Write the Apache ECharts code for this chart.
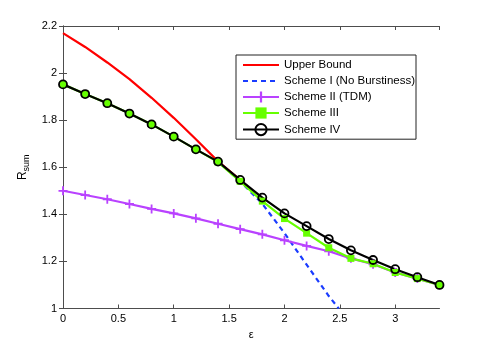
<!DOCTYPE html>
<html>
<head>
<meta charset="utf-8">
<script src="https://cdn.jsdelivr.net/npm/echarts@6/dist/echarts.min.js"></script>
<style>html,body{margin:0;padding:0;background:#fff}#c{width:485px;height:348px}</style>
</head>
<body>
<div id="c"></div>
<script>
// epsilon grid (x values)
var eps = [0,0.2,0.4,0.6,0.8,1.0,1.2,1.4,1.6,1.8,2.0,2.2,2.4,2.6,2.8,3.0,3.2,3.4];
// Upper bound (visible part, merges into Scheme IV)
var epsUB = [0,0.2,0.4,0.6,0.8,1.0,1.2,1.4,1.6];
var upperBound = [2.170,2.111,2.045,1.974,1.895,1.810,1.719,1.625,1.546];
// Scheme I (No Burstiness) – visible part after leaving upper bound
var epsI = [1.4,1.6,1.8,2.0,2.2,2.4,2.49];
var schemeI = [1.625,1.540,1.445,1.320,1.186,1.053,1.0];
// Scheme II (TDM)
var schemeII = [1.500,1.482,1.464,1.444,1.423,1.404,1.383,1.360,1.337,1.315,1.290,1.266,1.243,1.213,1.188,1.153,1.127,1.100];
// Scheme III
var schemeIII = [1.952,1.911,1.872,1.828,1.782,1.730,1.676,1.622,1.540,1.456,1.382,1.320,1.258,1.213,1.190,1.153,1.127,1.100];
// Scheme IV
var schemeIV = [1.952,1.911,1.872,1.828,1.782,1.730,1.676,1.624,1.546,1.471,1.404,1.350,1.295,1.247,1.206,1.167,1.133,1.100];
var names = ['Upper Bound','Scheme I (No Burstiness)','Scheme II (TDM)','Scheme III','Scheme IV'];

function pairs(xs, ys){ return xs.map(function(x,i){ return [x, ys[i]]; }); }

var font = 'Liberation Sans, Arial, Helvetica, sans-serif';
var axisColor = '#4d4d4d';
var chart = echarts.init(document.getElementById('c'), null, {renderer:'canvas'});
var plus = 'path://M4,0H6V4H10V6H6V10H4V6H0V4H4Z';

chart.setOption({
  animation:false,
  backgroundColor:'#fff',
  grid:{left:63, right:45.5, top:26, bottom:39.5, containLabel:false},
  legend:{
    data:[
      {name:names[0], itemStyle:{opacity:0}},
      {name:names[1], itemStyle:{opacity:0}},
      {name:names[2]},
      {name:names[3]},
      {name:names[4]}
    ],
    orient:'vertical', left:236, top:55,
    backgroundColor:'#fff', borderColor:'#222', borderWidth:1,
    padding:[4,1,3,6], itemWidth:36, itemHeight:14, itemGap:4,
    textStyle:{fontFamily:font, fontSize:11.5, color:'#000'}
  },
  xAxis:[{
    type:'value', min:0, max:3.4, interval:0.5,
    name:'\u03b5', nameLocation:'middle', nameGap:20,
    nameTextStyle:{fontFamily:font, fontSize:11, color:'#000'},
    axisLine:{lineStyle:{color:axisColor, width:1}},
    axisTick:{inside:true, length:4, lineStyle:{color:axisColor}},
    axisLabel:{showMaxLabel:false, fontFamily:font, fontSize:11, color:'#000', margin:5},
    splitLine:{show:false}
  },{
    type:'value', min:0, max:3.4, interval:0.5, position:'top',
    axisLine:{lineStyle:{color:axisColor, width:1}},
    axisTick:{inside:true, length:4, lineStyle:{color:axisColor}},
    axisLabel:{show:false}, splitLine:{show:false}
  }],
  yAxis:[{
    type:'value', min:1, max:2.2, interval:0.2,
    name:'{r|R}{s|sum}', nameLocation:'middle', nameGap:28,
    nameTextStyle:{fontFamily:font, fontSize:12, color:'#000',
      rich:{r:{fontFamily:font, fontSize:12, color:'#000'}, s:{fontFamily:font, fontSize:9, color:'#000', padding:[7,0,0,0]}}},
    axisLine:{show:true, lineStyle:{color:axisColor, width:1}},
    axisTick:{show:true, inside:true, length:4, lineStyle:{color:axisColor}},
    axisLabel:{fontFamily:font, fontSize:11, color:'#000', margin:6,
      formatter:function(v){ return String(Math.round(v*10)/10); }},
    splitLine:{show:false}
  },{
    type:'value', min:1, max:2.2, interval:0.2, position:'right',
    axisLine:{show:true, lineStyle:{color:axisColor, width:1}},
    axisTick:{show:true, inside:true, length:4, lineStyle:{color:axisColor}},
    axisLabel:{show:false}, splitLine:{show:false}
  }],
  series:[
    {name:names[0], type:'line', data:pairs(epsUB, upperBound), showSymbol:false, symbol:'none',
     lineStyle:{color:'#ff0000', width:2.2}, itemStyle:{color:'#ff0000'}},
    {name:names[1], type:'line', data:pairs(epsI, schemeI), showSymbol:false, symbol:'none',
     lineStyle:{color:'#1a3cff', width:2.2, type:[5,4]}, itemStyle:{color:'#1a3cff'}},
    {name:names[2], type:'line', data:pairs(eps, schemeII), symbol:plus, symbolSize:9,
     lineStyle:{color:'#b942ff', width:2.2}, itemStyle:{color:'#b942ff'}},
    {name:names[3], type:'line', data:pairs(eps, schemeIII), symbol:'rect', symbolSize:7,
     lineStyle:{color:'#66ff00', width:2.2}, itemStyle:{color:'#66ff00'}},
    {name:names[4], type:'line', data:pairs(eps, schemeIV), symbol:'circle', symbolSize:8,
     lineStyle:{color:'#000', width:2.2}, itemStyle:{color:'rgba(0,0,0,0)', borderColor:'#000', borderWidth:1.8}}
  ]
});
</script>
</body>
</html>
